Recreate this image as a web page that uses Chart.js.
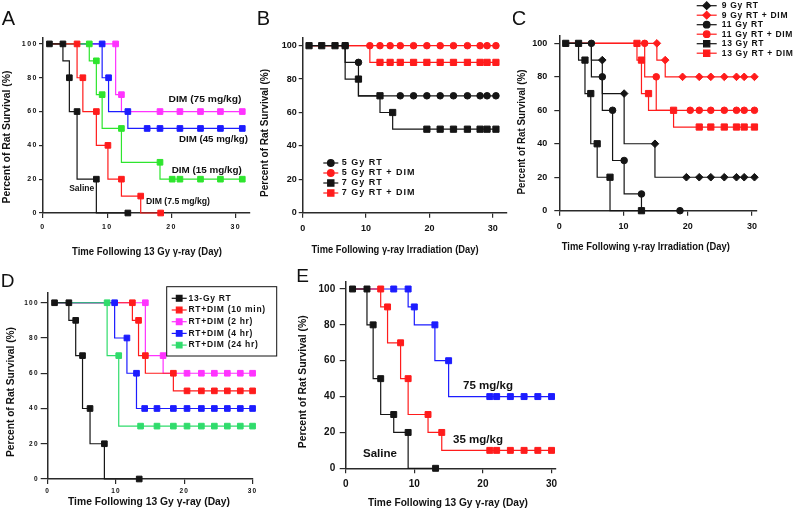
<!DOCTYPE html>
<html>
<head>
<meta charset="utf-8">
<script src="https://cdn.jsdelivr.net/npm/chart.js@4.4.1/dist/chart.umd.min.js"></script>
<style>
  html, body { margin: 0; background: #fff; }
  #fig { position: relative; width: 797px; height: 515px; overflow: hidden; background: #fff; }
  #fig canvas { position: absolute; }
</style>
</head>
<body>
<div id="fig">
  <canvas id="panelA" width="257" height="262" style="left:0;top:0"></canvas>
  <canvas id="panelB" width="256" height="262" style="left:257px;top:0"></canvas>
  <canvas id="panelC" width="284" height="262" style="left:513px;top:0"></canvas>
  <canvas id="panelD" width="285" height="260" style="left:0;top:255px"></canvas>
  <canvas id="panelE" width="290" height="260" style="left:290px;top:255px"></canvas>
</div>
<script>
// shared axis ticks
const X_TICKS = [0, 10, 20, 30];
const Y_TICKS = [0, 20, 40, 60, 80, 100];

// A: 13 Gy, DIM dose response  ([day, % survival])
const A_SALINE_STEP = [[1, 100], [3.1, 90], [4.1, 60], [5.3, 20], [8.3, 0], [13.2, 0]];
const A_SALINE_MARK = [[1, 100], [3.1, 100], [4.1, 80], [5.3, 60], [8.3, 20], [13.2, 0]];
const A_DIM7_STEP = [[1, 100], [5.3, 80], [6.2, 60], [8.3, 40], [10.1, 20], [12.2, 10], [15.2, 0], [18.3, 0]];
const A_DIM7_MARK = [[5.3, 100], [6.2, 80], [8.3, 60], [10.1, 40], [12.2, 20], [15.2, 10], [18.3, 0]];
const A_DIM15_STEP = [[1, 100], [7.2, 90], [8.3, 70], [9.2, 50], [12.2, 30], [18.2, 20], [31, 20]];
const A_DIM15_MARK = [[7.2, 100], [8.3, 90], [9.2, 70], [12.2, 50], [18.2, 30], [20.1, 20], [21.3, 20], [24.5, 20], [27.6, 20], [31, 20]];
const A_DIM45_STEP = [[1, 100], [9.2, 80], [10.2, 60], [13.2, 50], [31, 50]];
const A_DIM45_MARK = [[9.2, 100], [10.2, 80], [13.2, 60], [16.2, 50], [18.2, 50], [21.3, 50], [24.5, 50], [27.6, 50], [31, 50]];
const A_DIM75_STEP = [[1, 100], [11.3, 70], [12.2, 60], [31, 60]];
const A_DIM75_MARK = [[11.3, 100], [12.2, 70], [18.2, 60], [21.3, 60], [24.5, 60], [27.6, 60], [31, 60]];

// B: 5 and 7 Gy
const B_5GY_STEP = [[1, 100], [6.7, 90], [8.8, 70], [30.5, 70]];
const B_5GY_MARK = [[6.7, 100], [8.8, 90], [15.4, 70], [17.5, 70], [19.6, 70], [21.7, 70], [23.8, 70], [26, 70], [28, 70], [29.1, 70], [30.5, 70]];
const B_5GY_DIM_STEP = [[1, 100], [30.5, 100]];
const B_5GY_DIM_MARK = [[10.6, 100], [12.2, 100], [13.8, 100], [15.4, 100], [17.5, 100], [19.6, 100], [21.7, 100], [23.8, 100], [26, 100], [28, 100], [29.1, 100], [30.5, 100]];
const B_7GY_STEP = [[1, 100], [6.7, 80], [8.8, 70], [12.2, 60], [14.2, 50], [30.5, 50]];
const B_7GY_MARK = [[1, 100], [3, 100], [5.1, 100], [6.7, 100], [8.8, 80], [12.2, 70], [14.2, 60], [19.6, 50], [21.7, 50], [23.8, 50], [26, 50], [28, 50], [29.1, 50], [30.5, 50]];
const B_7GY_DIM_STEP = [[1, 100], [10.6, 90], [30.5, 90]];
const B_7GY_DIM_MARK = [[12.2, 90], [13.8, 90], [15.4, 90], [17.5, 90], [19.6, 90], [21.7, 90], [23.8, 90], [26, 90], [28, 90], [29.1, 90], [30.5, 90]];

// C: 9, 11 and 13 Gy
const C_9GY_STEP = [[1, 100], [5, 90], [6.7, 70], [10.1, 40], [14.9, 20], [30.4, 20]];
const C_9GY_MARK = [[6.7, 90], [10.1, 70], [14.9, 40], [19.8, 20], [21.8, 20], [23.6, 20], [25.7, 20], [27.6, 20], [28.8, 20], [30.4, 20]];
const C_9GY_DIM_STEP = [[1, 100], [15.2, 90], [16.5, 80], [30.4, 80]];
const C_9GY_DIM_MARK = [[15.2, 100], [16.5, 90], [19.2, 80], [21.8, 80], [23.6, 80], [25.7, 80], [27.6, 80], [28.8, 80], [30.4, 80]];
const C_11GY_STEP = [[1, 100], [5, 80], [6.7, 60], [8.3, 30], [10.1, 10], [12.8, 0], [18.8, 0]];
const C_11GY_MARK = [[5, 100], [6.7, 80], [8.3, 60], [10.1, 30], [12.8, 10], [18.8, 0]];
const C_11GY_DIM_STEP = [[1, 100], [13.3, 80], [15.1, 60], [30.4, 60]];
const C_11GY_DIM_MARK = [[13.3, 100], [15.1, 80], [20.4, 60], [21.8, 60], [23.6, 60], [25.7, 60], [27.6, 60], [28.8, 60], [30.4, 60]];
const C_13GY_STEP = [[1, 100], [3, 90], [4, 70], [4.9, 40], [5.9, 20], [7.9, 0], [12.8, 0]];
const C_13GY_MARK = [[1, 100], [3, 100], [4, 90], [4.9, 70], [5.9, 40], [7.9, 20], [12.8, 0]];
const C_13GY_DIM_STEP = [[1, 100], [12.1, 90], [12.8, 70], [13.9, 60], [17.8, 50], [30.4, 50]];
const C_13GY_DIM_MARK = [[12.1, 100], [12.8, 90], [13.9, 70], [17.8, 60], [21.8, 50], [23.6, 50], [25.7, 50], [27.6, 50], [28.8, 50], [30.4, 50]];

// D: timing of DIM after 13 Gy
const D_RT_STEP = [[1, 100], [3.1, 90], [4.1, 70], [5.1, 40], [6.2, 20], [8.3, 0], [13.4, 0]];
const D_RT_MARK = [[1, 100], [3.1, 100], [4.1, 90], [5.1, 70], [6.2, 40], [8.3, 20], [13.4, 0]];
const D_10MIN_STEP = [[1, 100], [12.4, 90], [13.3, 70], [14.3, 60], [18.4, 50], [30, 50]];
const D_10MIN_MARK = [[12.4, 100], [13.3, 90], [14.3, 70], [18.4, 60], [20.4, 50], [22.5, 50], [24.4, 50], [26.3, 50], [28.2, 50], [30, 50]];
const D_2HR_STEP = [[1, 100], [14.3, 70], [16.9, 60], [30, 60]];
const D_2HR_MARK = [[14.3, 100], [16.9, 70], [20.4, 60], [22.5, 60], [24.4, 60], [26.3, 60], [28.2, 60], [30, 60]];
const D_4HR_STEP = [[1, 100], [9.8, 80], [11.6, 60], [13, 40], [30, 40]];
const D_4HR_MARK = [[9.8, 100], [11.6, 80], [13, 60], [14.2, 40], [16, 40], [18.4, 40], [20.4, 40], [22.5, 40], [24.4, 40], [26.3, 40], [28.2, 40], [30, 40]];
const D_24HR_STEP = [[1, 100], [8.7, 70], [10.4, 30], [30, 30]];
const D_24HR_MARK = [[8.7, 100], [10.4, 70], [13.6, 30], [16, 30], [18.4, 30], [20.4, 30], [22.5, 30], [24.4, 30], [26.3, 30], [28.2, 30], [30, 30]];

// E: 35 and 75 mg/kg
const E_SALINE_STEP = [[1, 100], [3.1, 80], [4, 50], [5.1, 30], [7, 20], [9.1, 0], [13.1, 0]];
const E_SALINE_MARK = [[1, 100], [3.1, 100], [4, 80], [5.1, 50], [7, 30], [9.1, 20], [13.1, 0]];
const E_35_STEP = [[1, 100], [5.1, 90], [6.1, 70], [8, 50], [9.1, 30], [12, 20], [14, 10], [30, 10]];
const E_35_MARK = [[5.1, 100], [6.1, 90], [8, 70], [9.1, 50], [12, 30], [14, 20], [21, 10], [22, 10], [24, 10], [26, 10], [28, 10], [30, 10]];
const E_75_STEP = [[1, 100], [9.1, 90], [10, 80], [13, 60], [15, 40], [30, 40]];
const E_75_MARK = [[7, 100], [9.1, 100], [10, 90], [13, 80], [15, 60], [21, 40], [22, 40], [24, 40], [26, 40], [28, 40], [30, 40]];

const FONT = "'Liberation Sans', Arial, sans-serif";
const INK = "#111";
const AXIS = "#2a2a2a";
const BLACK = "#151515";
const RED = "#ff1c1c";
const GREEN = "#2ee52e";
const BLUE = "#1c1cff";
const MAGENTA = "#ff33ff";
const SPRING = "#30dc6c";

Chart.defaults.font.family = FONT;
Chart.defaults.color = INK;

const pts = (arr) => arr.map(([x, y]) => ({ x, y }));

function drawText(ctx, t) {
  ctx.save();
  ctx.font = `${t.bold === false ? "" : "bold "}${t.size}px ${FONT}`;
  ctx.fillStyle = INK;
  ctx.textAlign = "center";
  ctx.textBaseline = "middle";
  ctx.translate(t.x, t.y);
  if (t.rot) ctx.rotate(-Math.PI / 2);
  if (t.w) ctx.scale(t.w / ctx.measureText(t.s).width, 1);
  ctx.fillText(t.s, 0, 0);
  ctx.restore();
}

function drawKey(ctx, k, items) {
  if (k.box) {
    ctx.fillStyle = "#fff";
    ctx.fillRect(...k.box);
    ctx.strokeStyle = INK;
    ctx.lineWidth = 1;
    ctx.strokeRect(...k.box);
  }
  items.forEach((it, i) => {
    const y = k.y0 + i * k.dy;
    ctx.strokeStyle = it.color;
    ctx.lineWidth = 1.2;
    ctx.beginPath();
    ctx.moveTo(k.x0, y);
    ctx.lineTo(k.x1, y);
    ctx.stroke();
    ctx.fillStyle = it.color;
    Chart.helpers.drawPoint(ctx, { pointStyle: it.style, radius: it.r, borderWidth: 1, rotation: 0 }, (k.x0 + k.x1) / 2, y);
    ctx.save();
    ctx.font = `bold ${k.size}px ${FONT}`;
    ctx.fillStyle = INK;
    ctx.textAlign = "left";
    ctx.textBaseline = "middle";
    ctx.letterSpacing = k.spacing || "0px";
    ctx.translate(k.tx, y);
    ctx.scale(k.sx || 1, 1);
    ctx.fillText(it.label, 0, 0);
    ctx.restore();
  });
}

function notesPlugin(notes, keyItems, tickSpacing) {
  return {
    id: "notes",
    beforeDraw(chart) {
      chart.ctx.letterSpacing = tickSpacing || "0px";
    },
    afterDraw(chart) {
      const ctx = chart.ctx;
      ctx.save();
      ctx.letterSpacing = "0px";
      if (notes.key) drawKey(ctx, notes.key, keyItems);
      notes.texts.forEach((t) => drawText(ctx, t));
      ctx.restore();
    },
  };
}

function makePanel(id, series, p, notes) {
  const radius = (s) => (s.style === "circle" ? p.rCircle : s.style === "rectRot" ? p.rDiamond : p.rSquare);
  const marks = series.map((s) => ({
    label: s.label,
    data: pts(s.mark),
    showLine: false,
    pointStyle: s.style,
    pointRadius: radius(s),
    pointBackgroundColor: s.color,
    pointBorderColor: s.color,
    pointBorderWidth: 1,
    order: s.z,
    clip: false,
  }));
  // KM curve: hold the level, then drop at the event day
  const steps = series.map((s) => ({
    label: s.label,
    data: pts(s.step),
    stepped: "before",
    borderColor: s.color,
    borderWidth: 1.2,
    pointRadius: 0,
    fill: false,
    order: 100 + s.z,
    clip: false,
  }));
  const keyItems = series.map((s) => ({ label: s.label, color: s.color, style: s.style, r: radius(s) }));
  const tickFont = { size: p.tickSize, weight: "bold" };
  const axisGrid = (len) => ({ display: true, drawOnChartArea: false, drawTicks: true, tickLength: len, color: AXIS, lineWidth: 1.2 });
  const axisBorder = { display: true, color: AXIS, width: 1.5 };

  return new Chart(document.getElementById(id), {
    type: "line",
    data: { datasets: [...marks, ...steps] },
    options: {
      responsive: false,
      animation: false,
      devicePixelRatio: 1,
      events: [],
      layout: { autoPadding: false, padding: { top: p.top, right: p.right, left: 0, bottom: 0 } },
      plugins: { legend: { display: false }, tooltip: { enabled: false } },
      scales: {
        x: {
          type: "linear",
          min: 0,
          max: p.xMax,
          afterBuildTicks: (s) => { s.ticks = X_TICKS.map((v) => ({ value: v })); },
          afterFit: (s) => { s.height = p.xH; },
          ticks: { font: tickFont, color: INK, padding: p.xPad, maxRotation: 0, autoSkip: false },
          grid: axisGrid(5),
          border: axisBorder,
        },
        y: {
          type: "linear",
          min: 0,
          max: p.yMax,
          afterBuildTicks: (s) => { s.ticks = Y_TICKS.map((v) => ({ value: v })); },
          afterFit: (s) => { s.width = p.yW; },
          ticks: { font: tickFont, color: INK, padding: p.yPad, autoSkip: false },
          grid: axisGrid(p.yLen),
          border: axisBorder,
        },
      },
    },
    plugins: [notesPlugin(notes, keyItems, p.tickSpacing)],
  });
}

const yTitle = "Percent of Rat Survival (%)";
const xTitle13 = "Time Following 13 Gy \u03b3-ray (Day)";
const xTitleIrr = "Time Following \u03b3-ray Irradiation (Day)";

makePanel("panelA", [
  { label: "Saline", color: BLACK, style: "rect", step: A_SALINE_STEP, mark: A_SALINE_MARK, z: 0 },
  { label: "DIM (7.5 mg/kg)", color: RED, style: "rect", step: A_DIM7_STEP, mark: A_DIM7_MARK, z: 1 },
  { label: "DIM (15 mg/kg)", color: GREEN, style: "rect", step: A_DIM15_STEP, mark: A_DIM15_MARK, z: 2 },
  { label: "DIM (45 mg/kg)", color: BLUE, style: "rect", step: A_DIM45_STEP, mark: A_DIM45_MARK, z: 3 },
  { label: "DIM (75 mg/kg)", color: MAGENTA, style: "rect", step: A_DIM75_STEP, mark: A_DIM75_MARK, z: 4 },
], {
  top: 38, right: 7, yW: 43, xH: 49, xMax: 32.2, yMax: 103.5,
  tickSize: 7, tickSpacing: "1.5px", xPad: 5, yPad: 1, yLen: 4,
  rSquare: 4, rCircle: 3, rDiamond: 3.6,
}, {
  texts: [
    { s: "A", x: 8.3, y: 19.5, size: 20, bold: false },
    { s: yTitle, x: 7.5, y: 137, size: 10, rot: true, w: 133 },
    { s: xTitle13, x: 147, y: 252, size: 10, w: 150 },
    { s: "DIM (75 mg/kg)", x: 205, y: 100, size: 9, w: 73 },
    { s: "DIM (45 mg/kg)", x: 213.5, y: 140, size: 9, w: 69 },
    { s: "DIM (15 mg/kg)", x: 206.7, y: 171, size: 9, w: 70 },
    { s: "Saline", x: 81.7, y: 188.3, size: 9, w: 25 },
    { s: "DIM (7.5 mg/kg)", x: 178, y: 201.7, size: 8.5, w: 64 },
  ],
});

makePanel("panelB", [
  { label: "5 Gy RT", color: BLACK, style: "circle", step: B_5GY_STEP, mark: B_5GY_MARK, z: 1 },
  { label: "5 Gy RT + DIM", color: RED, style: "circle", step: B_5GY_DIM_STEP, mark: B_5GY_DIM_MARK, z: 3 },
  { label: "7 Gy RT", color: BLACK, style: "rect", step: B_7GY_STEP, mark: B_7GY_MARK, z: 0 },
  { label: "7 Gy RT + DIM", color: RED, style: "rect", step: B_7GY_DIM_STEP, mark: B_7GY_DIM_MARK, z: 2 },
], {
  top: 38, right: 6.3, yW: 45.7, xH: 49.3, xMax: 32.2, yMax: 104.6,
  tickSize: 9, xPad: 5, yPad: 2, yLen: 4,
  rSquare: 4.4, rCircle: 3.3, rDiamond: 3.6,
}, {
  key: { x0: 66.3, x1: 81.3, tx: 84.7, y0: 163, dy: 10, size: 9, spacing: "1px" },
  texts: [
    { s: "B", x: 6.3, y: 19.5, size: 20, bold: false },
    { s: yTitle, x: 8, y: 133, size: 10, rot: true, w: 128 },
    { s: xTitleIrr, x: 138, y: 250, size: 10, w: 167 },
  ],
});

makePanel("panelC", [
  { label: "9 Gy RT", color: BLACK, style: "rectRot", step: C_9GY_STEP, mark: C_9GY_MARK, z: 2 },
  { label: "9 Gy RT + DIM", color: RED, style: "rectRot", step: C_9GY_DIM_STEP, mark: C_9GY_DIM_MARK, z: 5 },
  { label: "11 Gy RT", color: BLACK, style: "circle", step: C_11GY_STEP, mark: C_11GY_MARK, z: 1 },
  { label: "11 Gy RT + DIM", color: RED, style: "circle", step: C_11GY_DIM_STEP, mark: C_11GY_DIM_MARK, z: 4 },
  { label: "13 Gy RT", color: BLACK, style: "rect", step: C_13GY_STEP, mark: C_13GY_MARK, z: 0 },
  { label: "13 Gy RT + DIM", color: RED, style: "rect", step: C_13GY_DIM_STEP, mark: C_13GY_DIM_MARK, z: 3 },
], {
  top: 36, right: 40.3, yW: 46.3, xH: 51.3, xMax: 30.75, yMax: 104.4,
  tickSize: 9, xPad: 5, yPad: 7, yLen: 5,
  rSquare: 4.4, rCircle: 3.3, rDiamond: 3.8,
}, {
  key: { x0: 183.7, x1: 203.7, tx: 208.7, y0: 5.7, dy: 9.5, size: 8.5, spacing: "0.7px" },
  texts: [
    { s: "C", x: 6, y: 19.5, size: 20, bold: false },
    { s: yTitle, x: 9, y: 132, size: 10, rot: true, w: 125 },
    { s: xTitleIrr, x: 132.8, y: 247, size: 10, w: 168 },
  ],
});

makePanel("panelD", [
  { label: "13-Gy RT", color: BLACK, style: "rect", step: D_RT_STEP, mark: D_RT_MARK, z: 0 },
  { label: "RT+DIM (10 min)", color: RED, style: "rect", step: D_10MIN_STEP, mark: D_10MIN_MARK, z: 3 },
  { label: "RT+DIM (2 hr)", color: MAGENTA, style: "rect", step: D_2HR_STEP, mark: D_2HR_MARK, z: 4 },
  { label: "RT+DIM (4 hr)", color: BLUE, style: "rect", step: D_4HR_STEP, mark: D_4HR_MARK, z: 2 },
  { label: "RT+DIM (24 hr)", color: SPRING, style: "rect", step: D_24HR_STEP, mark: D_24HR_MARK, z: 1 },
], {
  top: 37.7, right: 32, yW: 47.7, xH: 36, xMax: 30.06, yMax: 105.7,
  tickSize: 6.5, tickSpacing: "1.2px", xPad: 3, yPad: 2, yLen: 7,
  rSquare: 4, rCircle: 3, rDiamond: 3.6,
}, {
  key: { box: [166.7, 31.7, 110, 69.3], x0: 171.7, x1: 186.7, tx: 188.5, y0: 43.3, dy: 11.7, size: 8.5, spacing: "0.7px" },
  texts: [
    { s: "D", x: 7.5, y: 26.7, size: 19, bold: false },
    { s: yTitle, x: 11.7, y: 137, size: 10, rot: true, w: 130 },
    { s: xTitle13, x: 149, y: 246.7, size: 10.5, w: 162 },
  ],
});

makePanel("panelE", [
  { label: "Saline", color: BLACK, style: "rect", step: E_SALINE_STEP, mark: E_SALINE_MARK, z: 0 },
  { label: "35 mg/kg", color: RED, style: "rect", step: E_35_STEP, mark: E_35_MARK, z: 1 },
  { label: "75 mg/kg", color: BLUE, style: "rect", step: E_75_STEP, mark: E_75_MARK, z: 2 },
], {
  top: 27, right: 24, yW: 55.7, xH: 46.7, xMax: 30.65, yMax: 103.9,
  tickSize: 10, xPad: 5, yPad: 4.5, yLen: 6,
  rSquare: 4.2, rCircle: 3, rDiamond: 3.6,
}, {
  texts: [
    { s: "E", x: 12.5, y: 21.7, size: 19, bold: false },
    { s: yTitle, x: 13, y: 126.7, size: 10.5, rot: true, w: 133 },
    { s: xTitle13, x: 158, y: 248, size: 10.5, w: 160 },
    { s: "75 mg/kg", x: 198, y: 131, size: 10, w: 50 },
    { s: "35 mg/kg", x: 188, y: 185, size: 10, w: 50 },
    { s: "Saline", x: 90, y: 199, size: 10, w: 34 },
  ],
});
</script>
</body>
</html>
